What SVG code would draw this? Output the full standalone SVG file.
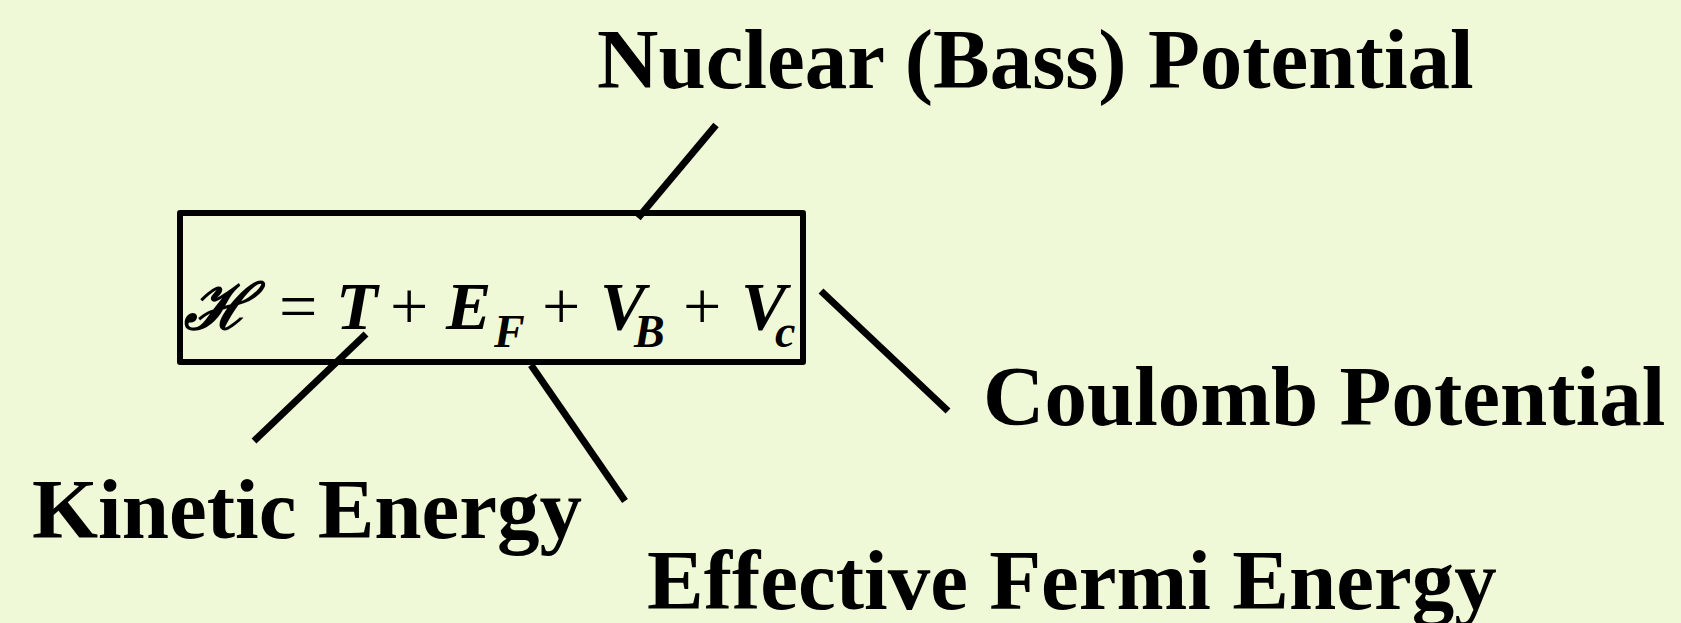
<svg xmlns="http://www.w3.org/2000/svg" width="1681" height="623" viewBox="0 0 1681 623">
<style>
.lbl{font-family:"Liberation Serif","Times New Roman",serif;font-weight:bold;font-size:85px;fill:#000}
.eq{font-family:"Liberation Serif","Times New Roman",serif;font-weight:bold;font-style:italic;font-size:68px;fill:#000}
.op{font-family:"Liberation Serif","Times New Roman",serif;font-size:68px;fill:#000}
.sub{font-family:"Liberation Serif","Times New Roman",serif;font-weight:bold;font-style:italic;font-size:46px;fill:#000}
.ln{stroke:#000;stroke-width:7;fill:none}
</style>
<rect x="0" y="0" width="1681" height="623" fill="#F0F9D7"/>
<g id="equation">
<rect x="180" y="213" width="623" height="149" fill="none" stroke="#000" stroke-width="6" stroke-linejoin="round"/>
<text class="eq" x="184" y="329" style="font-family:'DejaVu Serif',serif;font-size:64px">ℋ</text>
<text class="op" x="279" y="329">=</text>
<text class="eq" x="336" y="329">T</text>
<text class="op" x="390" y="329">+</text>
<text class="eq" x="446" y="329">E</text>
<text class="sub" x="494" y="347">F</text>
<text class="op" x="542" y="329">+</text>
<text class="eq" x="600" y="329">V</text>
<text class="sub" x="634" y="347">B</text>
<text class="op" x="683" y="329">+</text>
<text class="eq" x="741" y="329">V</text>
<text class="sub" x="775" y="347">c</text>
</g>
<g id="connectors">
<line class="ln" x1="716" y1="125" x2="638" y2="218"/>
<line class="ln" x1="366" y1="334" x2="254" y2="441"/>
<line class="ln" x1="531" y1="365" x2="625" y2="501"/>
<line class="ln" x1="821" y1="291" x2="948" y2="411"/>
</g>
<g id="nuclear"><text class="lbl" x="597" y="88">Nuclear (Bass) Potential</text></g>
<g id="coulomb"><text class="lbl" x="983" y="425">Coulomb Potential</text></g>
<g id="kinetic"><text class="lbl" x="32" y="538">Kinetic Energy</text></g>
<g id="fermi"><text class="lbl" x="647" y="609">Effective Fermi Energy</text></g>
</svg>
